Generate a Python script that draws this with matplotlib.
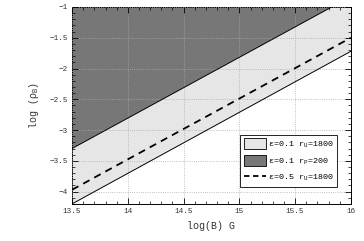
import numpy as np
import matplotlib.pyplot as plt
from matplotlib.ticker import MultipleLocator

# log(B) end points and the three boundaries
log_b = np.array([13.5, 16.0])
lower_u1800 = np.array([-4.2, -1.72])    # eps=0.1, r_U=1800 lower edge
upper_p200 = np.array([-3.3, -0.83])     # eps=0.1, r_P=200 edge
dashed_u1800 = np.array([-3.97, -1.5])   # eps=0.5, r_U=1800

plt.rcParams['font.family'] = ['Liberation Mono', 'DejaVu Sans Mono']

fig = plt.figure(figsize=(3.64, 2.41), dpi=100)
ax = fig.add_axes([0.198, 0.154, 0.766, 0.817])

top = -1.0
ax.fill_between(log_b, lower_u1800, top, facecolor='#e6e6e6', edgecolor='none', zorder=1)
ax.fill_between(log_b, upper_p200, top, facecolor='#777777', edgecolor='none', zorder=2)
ax.plot(log_b, lower_u1800, color='black', lw=0.7, zorder=3)
ax.plot(log_b, upper_p200, color='black', lw=0.7, zorder=3)
ax.plot(log_b, dashed_u1800, color='black', lw=1.3, ls=(0, (4, 3)), zorder=3)

# legend proxies
h1 = ax.fill([], [], facecolor='#e6e6e6', edgecolor='black', lw=0.6,
             label=r'$\mathregular{\epsilon}$=0.1 r$_\mathregular{U}$=1800')[0]
h2 = ax.fill([], [], facecolor='#777777', edgecolor='black', lw=0.6,
             label=r'$\mathregular{\epsilon}$=0.1 r$_\mathregular{P}$=200')[0]
h3, = ax.plot([], [], color='black', lw=1.3, ls=(0, (3, 2)),
              label=r'$\mathregular{\epsilon}$=0.5 r$_\mathregular{U}$=1800')

ax.set_xlim(13.5, 16)
ax.set_ylim(-4.2, -1)
ax.xaxis.set_major_locator(MultipleLocator(0.5))
ax.xaxis.set_minor_locator(MultipleLocator(0.1))
ax.yaxis.set_major_locator(MultipleLocator(0.5))
ax.yaxis.set_minor_locator(MultipleLocator(0.1))
fmt = plt.FuncFormatter(lambda v, p: ('%g' % v).replace('-', '\u2212'))
ax.xaxis.set_major_formatter(fmt)
ax.yaxis.set_major_formatter(fmt)
ax.tick_params(which='both', direction='in', top=True, right=True, labelsize=5.5,
               pad=3, labelcolor='#333333')
ax.tick_params(which='major', length=4, width=0.6)
ax.tick_params(which='minor', length=2, width=0.5)
ax.set_axisbelow(False)
ax.grid(True, which='major', ls=':', lw=0.6, color='#aaaaaa')
for s in ax.spines.values():
    s.set_linewidth(0.7)

ax.set_xlabel('log(B) G', fontsize=7.2, labelpad=4, color='#333333')
ax.set_ylabel(r'log ($\mathregular{\rho_B}$)', fontsize=7.2, labelpad=6, color='#333333')

leg = ax.legend(handles=[h1, h2, h3], loc='lower right', bbox_to_anchor=(0.95, 0.086),
                fontsize=6, frameon=True, fancybox=False, edgecolor='black', framealpha=1,
                handlelength=2.65, handleheight=1.6, handletextpad=0.15,
                borderaxespad=0, labelspacing=0.6, borderpad=0.45)
leg.get_frame().set_linewidth(0.6)
leg.set_zorder(5)

fig.savefig('out.png', dpi=100)
